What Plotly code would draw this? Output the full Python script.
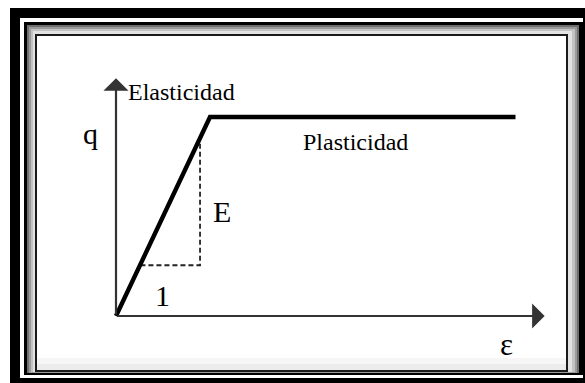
import plotly.graph_objects as go

W, H = 585, 383

# ---- data (strain / stress idealised elasto-plastic curve) ----
strain = [0.0, 1.0, 4.25]
stress = [0.0, 2.0, 2.0]
slope_x = [0.26, 0.894, 0.894]
slope_y = [0.51, 0.51, 1.79]
axis_x_end = 4.56
axis_y_end = 2.39
label_texts = ["Elasticidad", "Plasticidad", "E", "1", "q", "ε"]

# ---- layout mapping (pixels of the origin and pixel per unit) ----
X0PX, Y0PX = 116, 316
SX, SY = 94.0, 99.5
xr = [-X0PX / SX, (W - X0PX) / SX]
yr = [(Y0PX - H) / SY, Y0PX / SY]


def px(x):
    return x / W


def py(y):
    return 1 - y / H


def rect(x0, y0, x1, y1, fill=None, line=None, lw=0):
    return dict(type="rect", xref="paper", yref="paper",
                x0=px(x0), x1=px(x1), y0=py(y1), y1=py(y0),
                fillcolor=fill if fill else "rgba(0,0,0,0)",
                line=dict(color=line if line else "rgba(0,0,0,0)", width=lw),
                layer="below")


shapes = [
    rect(10, 8, 600, 400, fill="#000000"),
    rect(20, 18, 583, 378, fill="#ffffff"),
    rect(24, 22, 583, 375, fill="#000000"),
    rect(27, 25, 579, 373, fill="#6e6e6e"),
    rect(29, 27, 577, 373, fill="#9a9a9a"),
    rect(31, 29, 575, 372, fill="#c2c2c2"),
    rect(33, 31, 572, 372, fill="#e2e2e2"),
    rect(35, 34, 568, 372, fill="#1a1a1a"),
    rect(37, 36, 566, 370, fill="#ffffff"),
    rect(37, 358, 566, 370, fill="#f6f6f6"),
    rect(37, 364, 566, 370, fill="#ececec"),
]

fig = go.Figure()

# dashed slope triangle
fig.add_trace(go.Scatter(x=slope_x, y=slope_y, mode="lines",
                         line=dict(color="#222222", width=1.8, dash="5px,3px"),
                         hoverinfo="skip", showlegend=False))
# main curve
fig.add_trace(go.Scatter(x=strain, y=stress, mode="lines",
                         line=dict(color="#000000", width=4.4),
                         hoverinfo="skip", showlegend=False))

annotations = [
    # axes with arrow heads
    dict(x=axis_x_end, y=0, ax=0, ay=0, xref="x", yref="y", axref="x", ayref="y",
         text="", showarrow=True, arrowhead=1, arrowwidth=2.2, arrowsize=1.9,
         arrowcolor="#333333", standoff=0, startstandoff=0),
    dict(x=0, y=axis_y_end, ax=0, ay=0, xref="x", yref="y", axref="x", ayref="y",
         text="", showarrow=True, arrowhead=1, arrowwidth=2.2, arrowsize=1.9,
         arrowcolor="#333333", standoff=0, startstandoff=0),
]

label_pos = [(181, 92, 24), (356, 142, 24), (222, 211, 30), (162, 295, 30),
             (90, 133, 30), (506, 344, 31)]
for t, (lx, ly, fs) in zip(label_texts, label_pos):
    annotations.append(dict(x=px(lx), y=py(ly), xref="paper", yref="paper",
                            text=t, showarrow=False, xanchor="center", yanchor="middle",
                            font=dict(family="Liberation Serif, serif", size=fs,
                                      color="#000000")))

fig.update_layout(
    width=W, height=H, margin=dict(l=0, r=0, t=0, b=0),
    paper_bgcolor="#ffffff", plot_bgcolor="rgba(0,0,0,0)",
    xaxis=dict(range=xr, visible=False, fixedrange=True),
    yaxis=dict(range=yr, visible=False, fixedrange=True),
    shapes=shapes, annotations=annotations, showlegend=False,
)

fig.write_html("out.html", config={"displayModeBar": False},
               post_script="document.body.style.margin='0';"
                           "document.body.style.overflow='hidden';")
